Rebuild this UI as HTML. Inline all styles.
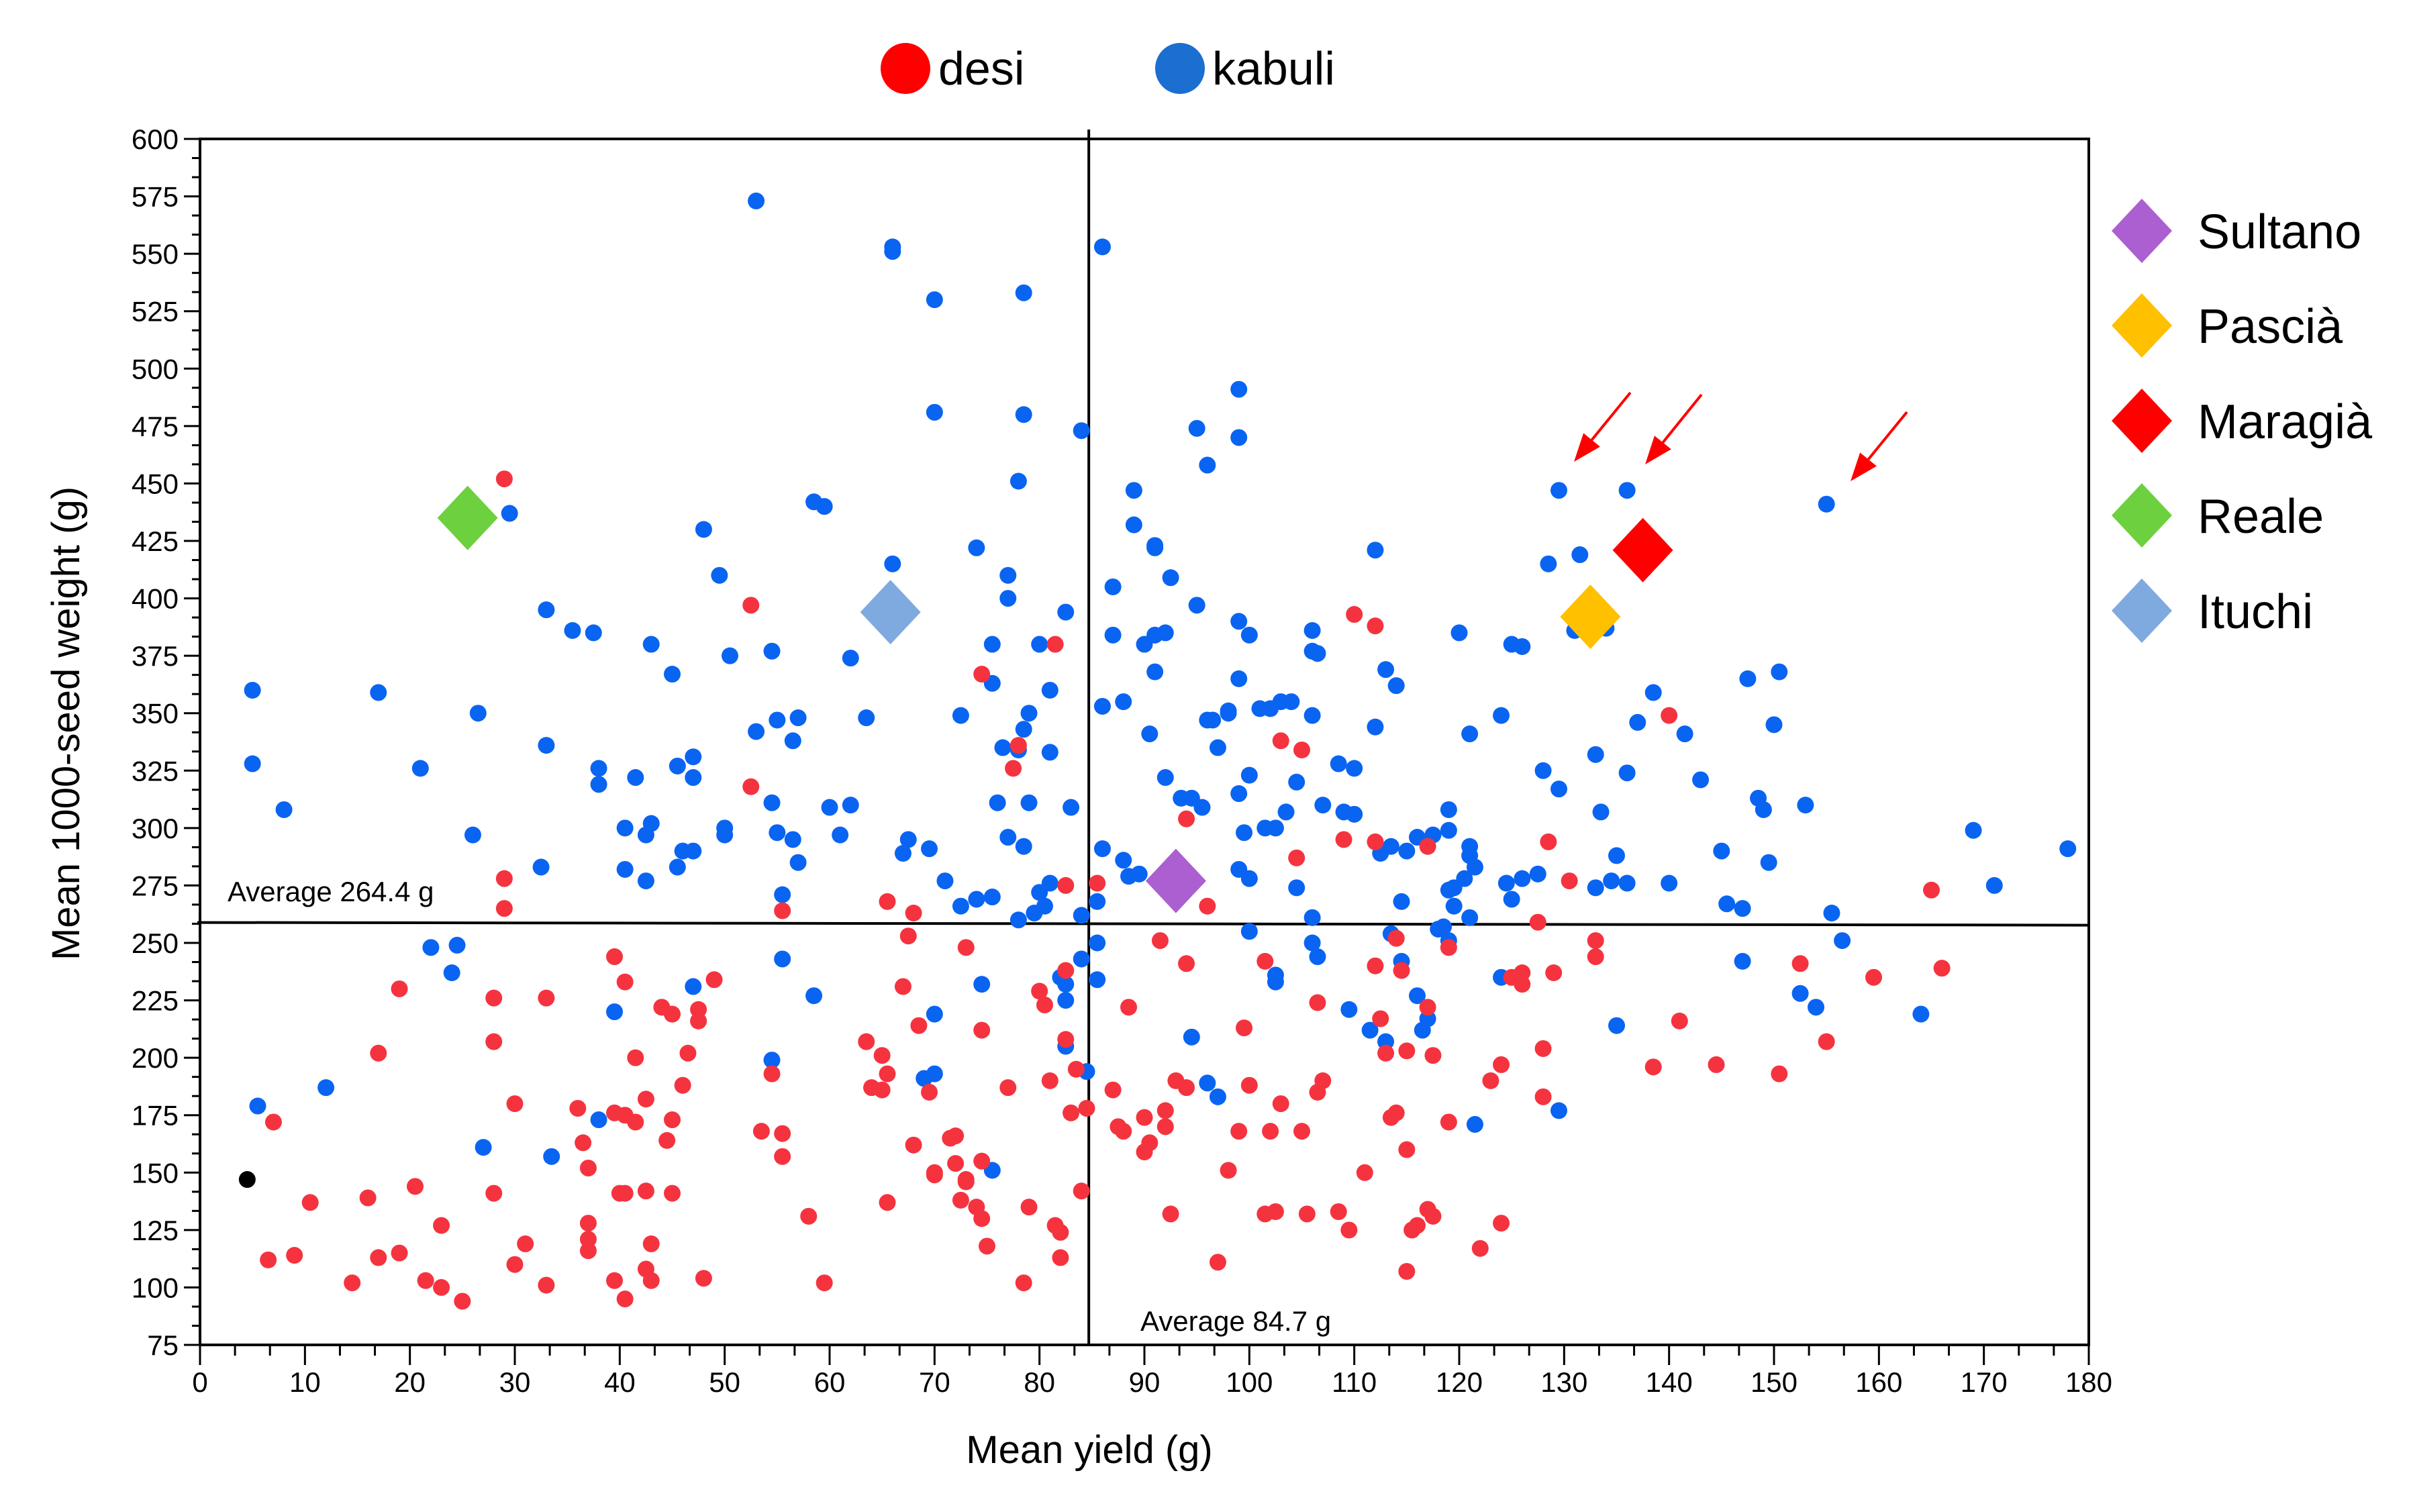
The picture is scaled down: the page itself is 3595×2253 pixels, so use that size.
<!DOCTYPE html>
<html><head><meta charset="utf-8"><style>
html,body{margin:0;padding:0;background:#fff;}
svg{display:block;}
text{font-family:"Liberation Sans",sans-serif;fill:#000;}
</style></head><body>
<svg id="chart" width="3595" height="2253" viewBox="0 0 3595 2253" xmlns="http://www.w3.org/2000/svg">
<g id="marks"></g>
<g id="axes"></g>
</svg>
<script>
const xTicks=[0,10,20,30,40,50,60,70,80,90,100,110,120,130,140,150,160,170,180];
const yTicks=[75,100,125,150,175,200,225,250,275,300,325,350,375,400,425,450,475,500,525,550,575,600];
const avgYield=84.7;
const avgWeight=264.4;
const avgWeightLineLevel=258.6;
const kabuliX=[53,66,66,86,70,78.5,70,78.5,84,95,99,99,96,89,58.5,59.5,29.5,26,48,89,91,91,112,74,66,78,49.5,77,92.5,87,77,95,82.5,33,35.5,37.5,43,62,50.5,54.5,45,87,90,91,92,99,100,106,106,80,75.5,91,75.5,113,114,99,104,102,98,96,90.5,106,112,86,88,81,79,78.5,72.5,63.5,57,55,53,56.5,60,62,61,5,17,5,8,21,26.5,26,33,32.5,38,38,40.5,41.5,43,42.5,45.5,47,47,40.5,42.5,46,47,45.5,50,50,54.5,55,56.5,57,55.5,67.5,67,69.5,71,72.5,74,75.5,76,78.5,77,79,76.5,78,81,83,80,81,80.5,79.5,78,84,85.5,86,88,88.5,89.5,92,93.5,94.5,95.5,97,98,96.5,99,99.5,100,100,99,101.5,102.5,103.5,104.5,104.5,106,107,108.5,109,110,110,112.5,113.5,114.5,115,116,117.5,118.5,119,119,119,119.5,121,121,121.5,121,120,121,124,125,126,124.5,126,127.5,125,128,129.5,128.5,129.5,131.5,131,133,133.5,133,134.5,135,136,136,136,134,137,138.5,140,141.5,143,145,145.5,147,147.5,148.5,149,149.5,150,150.5,153,155,169,171,178,101,103,106.5,22,24.5,24,5.5,12,27,33.5,38,39.5,47,54.5,55.5,58.5,69,70,70,74.5,75.5,82,82.5,82.5,82.5,84,84.5,85.5,85.5,94.5,96,97,100,102.5,102.5,106,106.5,109.5,111.5,113,113.5,114.5,116,116.5,117,118,119,121.5,124,129.5,135,147,152.5,154,156.5,164,155.5,120.5,119.5];
const kabuliY=[573,553,551,553,530,533,481,480,473,474,470,491,458,447,442,440,437,431,430,432,422,423,421,422,415,451,410,410,409,405,400,397,394,395,386,385,380,374,375,377,367,384,380,384,385,390,384,386,377,380,380,368,363,369,362,365,355,352,351,347,341,349,344,353,355,360,350,343,349,348,348,347,342,338,309,310,297,360,359,328,308,326,350,297,336,283,326,319,300,322,302,297,327,331,322,282,277,290,290,283,297,300,311,298,295,285,271,295,289,291,277,266,269,270,311,292,296,311,335,334,333,309,272,276,266,263,260,262,268,291,286,279,280,322,313,313,309,335,350,347,315,298,323,278,282,300,300,307,320,274,261,310,328,307,326,306,289,292,268,290,296,297,257,308,299,273,266,292,288,283,261,385,341,349,380,379,276,278,280,269,325,317,415,447,419,386,332,307,274,277,288,324,276,447,387,346,359,276,341,321,290,267,265,365,313,308,285,345,368,310,441,299,275,291,352,355,376,248,249,237,179,187,161,157,173,220,231,199,243,227,191,219,193,232,151,235,232,225,205,243,194,250,234,209,189,183,255,236,233,250,244,221,212,207,254,242,227,212,217,256,251,171,235,177,214,242,228,222,251,219,263,278,274];
const desiX=[29,52.5,52.5,29,29,74.5,78,77.5,81.5,110,112,94,96,103,105,104.5,109,112,117,128.5,130.5,140,165,55.5,65.5,68,82.5,85.5,39.5,40.5,19,28,33,28,17,30,36,36.5,37,7,6.5,9,10.5,14.5,16,17,19,20.5,21.5,23,23,25,28,30,31,33,37,37,37,39.5,40.5,40,40.5,39.5,40.5,41.5,41.5,42.5,42.5,43,43,42.5,44,44.5,45,45,45,46,46.5,47.5,47.5,49,48,54.5,53.5,55.5,55.5,58,59.5,63.5,64,65,65,65.5,65.5,67,67.5,68.5,68,69.5,70,70,71.5,72,72,72.5,73,73,73,74.5,74.5,74,74.5,75,77,78.5,79,80,80.5,81,81.5,82,82,82.5,82.5,83.5,83,84,84.5,87,88,87.5,88.5,90,90,90.5,92,91.5,92,92.5,93,94,94,97,98,99,99.5,100,101.5,101.5,102.5,102,103,105,105.5,106.5,106.5,107,108.5,109.5,111,112,112.5,113,113.5,114,114,114.5,115,115,115,115.5,116,117,117,117.5,117.5,119,119,122,123,124,124,125,126,126,127.5,128,128,129,133,133,138.5,141,144.5,150.5,152.5,155,159.5,166];
const desiY=[452,397,318,278,265,367,336,326,380,393,388,304,266,338,334,287,295,294,292,294,277,349,273,264,268,263,275,276,244,233,230,226,226,207,202,180,178,163,152,172,112,114,137,102,139,113,115,144,103,127,100,94,141,110,119,101,128,121,116,176,175,141,141,103,95,172,200,182,108,119,103,142,222,164,173,141,219,188,202,221,216,234,104,193,168,167,157,131,102,207,187,201,186,193,137,231,253,214,162,185,150,149,165,166,154,138,146,147,248,212,155,135,130,118,187,102,135,229,223,190,127,124,113,238,208,195,176,142,178,186,168,170,222,159,174,163,177,251,170,132,190,241,187,111,151,168,213,188,242,132,133,168,180,168,132,224,185,190,133,125,150,240,217,202,174,176,252,238,203,160,107,125,127,134,222,201,131,172,248,117,190,128,197,235,232,237,259,204,183,237,251,244,196,216,197,193,241,207,235,239];
const otherX=[4.5];
const otherY=[147];
const varietyNames=["Sultano","Pascià","Maragià","Reale","Ituchi"];
const varietyX=[93,132.5,137.5,25.5,65.8];
const varietyY=[277,392,421,435,394];
const varietyColors=["#ac5fd1","#ffc000","#ff0000","#6dd03f","#7faadf"];

const X0=298,X1=3112,Y0=2004,Y1=207;
const xs=v=>X0+(v-0)/(180-0)*(X1-X0);
const ys=v=>Y0-(v-75)/(600-75)*(Y0-Y1);
const NS="http://www.w3.org/2000/svg";
const marks=document.getElementById('marks');
const axes=document.getElementById('axes');
function mk(tag,attrs,parent){const e=document.createElementNS(NS,tag);for(const k in attrs)e.setAttribute(k,attrs[k]);parent.appendChild(e);return e;}

// average lines
let l=mk('line',{x1:xs(avgYield),x2:xs(avgYield),y1:193,y2:Y0,stroke:'#000','stroke-width':4},marks);


l=mk('line',{x1:X0-4,x2:X1,y1:ys(avgWeightLineLevel)-1,y2:ys(avgWeightLineLevel)+3,stroke:'#000','stroke-width':4},marks);



const R=12.5;
for(let i=0;i<kabuliX.length;i++){
  const c=mk('circle',{cx:xs(kabuliX[i]),cy:ys(kabuliY[i]),r:R,fill:'#0a64f2'},marks);
  
  
}
for(let i=0;i<desiX.length;i++){
  const c=mk('circle',{cx:xs(desiX[i]),cy:ys(desiY[i]),r:R,fill:'#f5333f'},marks);
  
  
}
for(let i=0;i<otherX.length;i++){
  const c=mk('circle',{cx:xs(otherX[i]),cy:ys(otherY[i]),r:R,fill:'#000'},marks);
  
  
}
function diamond(cx,cy,color,parent){
  return mk('polygon',{points:`${cx},${cy-48} ${cx+45},${cy} ${cx},${cy+48} ${cx-45},${cy}`,fill:color},parent);
}
for(let i=0;i<varietyNames.length;i++){
  const d=diamond(xs(varietyX[i]),ys(varietyY[i]),varietyColors[i],marks);
  
  
}
// arrows
const arrows=[[2429,585,2345,688],[2535,588,2451,692],[2841,614,2757,717]];
arrows.forEach(a=>{
  const g=mk('g',{},marks);
  
  
  const dx=a[2]-a[0],dy=a[3]-a[1],L=Math.hypot(dx,dy),ux=dx/L,uy=dy/L;
  const bx=a[2]-ux*42,by=a[3]-uy*42;
  mk('line',{x1:a[0],y1:a[1],x2:bx,y2:by,stroke:'#ff0000','stroke-width':4},g);
  mk('polygon',{points:`${a[2]},${a[3]} ${bx-uy*16},${by+ux*16} ${bx+uy*16},${by-ux*16}`,fill:'#ff0000'},g);
});

// axes frame
let f=mk('rect',{x:X0,y:Y1,width:X1-X0,height:Y0-Y1,fill:'none',stroke:'#000','stroke-width':4},axes);


// x ticks
for(let i=0;i<xTicks.length;i++){
  const x=xs(xTicks[i]);
  mk('line',{x1:x,x2:x,y1:Y0,y2:Y0+30,stroke:'#000','stroke-width':3},axes);
  if(i<xTicks.length-1){
    for(let k=1;k<3;k++){const xm=xs(xTicks[i]+(xTicks[i+1]-xTicks[i])*k/3);mk('line',{x1:xm,x2:xm,y1:Y0,y2:Y0+16,stroke:'#000','stroke-width':3},axes);}
  }
  const t=mk('text',{x:x,y:2074,'text-anchor':'middle','font-size':42},axes);
  t.textContent=xTicks[i];
  
  
}
for(let i=0;i<yTicks.length;i++){
  const y=ys(yTicks[i]);
  mk('line',{x1:X0-24,x2:X0,y1:y,y2:y,stroke:'#000','stroke-width':3},axes);
  if(i<yTicks.length-1){
    for(let k=1;k<3;k++){const ym=ys(yTicks[i]+(yTicks[i+1]-yTicks[i])*k/3);mk('line',{x1:X0-12,x2:X0,y1:ym,y2:ym,stroke:'#000','stroke-width':3},axes);}
  }
  const t=mk('text',{x:266,y:y+15,'text-anchor':'end','font-size':42},axes);
  t.textContent=yTicks[i];
  
  
}
let t=mk('text',{x:1623,y:2180,'text-anchor':'middle','font-size':58},axes);
t.textContent='Mean yield (g)';


t=mk('text',{x:0,y:0,'text-anchor':'middle','font-size':58,transform:'translate(118,1078) rotate(-90)'},axes);
t.textContent='Mean 1000-seed weight (g)';


t=mk('text',{x:339,y:1343,'font-size':42},axes);
t.textContent='Average '+avgWeight+' g';


t=mk('text',{x:1699,y:1983,'font-size':42},axes);
t.textContent='Average '+avgYield+' g';



// top legend
const lg=mk('g',{},axes);


mk('ellipse',{cx:1349,cy:102,rx:37,ry:38,fill:'#ff0000'},lg);
t=mk('text',{x:1398,y:126,'font-size':70},lg);t.textContent='desi';


mk('ellipse',{cx:1758,cy:102,rx:37,ry:38,fill:'#1a6fd0'},lg);
t=mk('text',{x:1806,y:126,'font-size':70},lg);t.textContent='kabuli';



// right legend
const rg=mk('g',{},axes);


const legY=[344,485,627,768,910];
for(let i=0;i<varietyNames.length;i++){
  diamond(3191,legY[i],varietyColors[i],rg);
  const tt=mk('text',{x:3274,y:legY[i]+26,'font-size':72},rg);
  tt.textContent=varietyNames[i];
  
  
}
</script>
</body></html>
